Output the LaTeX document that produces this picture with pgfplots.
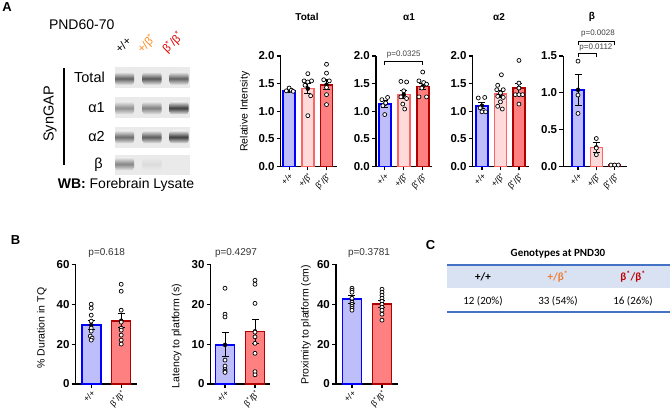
\documentclass[border=0pt]{standalone}
\usepackage{fontspec}
\setmainfont{Liberation Sans}
\newfontfamily\calibri{Carlito}
\usepackage{pgfplots}
\pgfplotsset{compat=1.18}
\definecolor{bluefill}{RGB}{190,190,250}
\definecolor{blueedge}{RGB}{0,0,255}
\definecolor{pinkfill}{RGB}{255,218,218}
\definecolor{pinkedge}{RGB}{255,100,100}
\definecolor{redfill}{RGB}{255,128,128}
\definecolor{rededge}{RGB}{176,0,0}
\definecolor{orangetxt}{RGB}{255,140,30}
\definecolor{redtxt}{RGB}{225,0,0}
\definecolor{tblue}{RGB}{68,114,196}
\definecolor{tfill}{RGB}{217,226,243}
\definecolor{torange}{RGB}{237,125,49}
\definecolor{tred}{RGB}{192,0,0}
\definecolor{blotbg}{RGB}{234,234,234}
\newcommand{\bs}{β\textsuperscript{*}}
\pgfplotsset{
  gpbase/.style={
    scale only axis, anchor=south west,
    axis lines=left, axis line style={-, line width=1.5pt, black},
    tick align=outside, major tick length=4pt,
    tick style={line width=1.2pt, black},
    ymin=0, clip=false,
    /pgf/number format/assume math mode=true,
    yticklabel style={font=\fontsize{11.5}{12}\selectfont\bfseries, inner sep=2pt},
    xticklabel style={font=\fontsize{8.5}{9}\selectfont, rotate=45, anchor=north east, inner sep=1pt},
  },
  gpA/.style={gpbase, height=110.5pt, ymax=2, ytick={0,0.5,1,1.5,2},
    yticklabel={\pgfmathprintnumber[fixed,fixed zerofill,precision=1]{\tick}},
    xtick={0,1,2}, xticklabels={+/+, +/\bs, \bs/\bs}},
  gpB/.style={gpbase, height=119.7pt, xtick={0,1}, xticklabels={+/+, \bs/\bs}},
  barB/.style={ybar, bar width=12pt, bar shift=0pt, fill=bluefill, draw=blueedge, line width=1.6pt},
  barP/.style={ybar, bar width=12pt, bar shift=0pt, fill=pinkfill, draw=pinkedge, line width=1.6pt},
  barR/.style={ybar, bar width=12pt, bar shift=0pt, fill=redfill, draw=rededge, line width=1.6pt},
  errb/.style={only marks, mark=none, error bars/.cd, y dir=both, y explicit,
    error bar style={line width=1pt, black},
    error mark options={rotate=90, mark size=3.5pt, line width=1pt, black}},
  pts/.style={only marks, mark=*, mark size=2pt, mark options={fill=white, draw=black, line width=0.7pt}},
}
\begin{document}
\begin{tikzpicture}
\path[use as bounding box] (0,0) rectangle (670pt,418pt);

% ---------- panel letters
\node[font=\fontsize{13}{13}\selectfont\bfseries] at (7pt,411pt) {A};
\node[font=\fontsize{13}{13}\selectfont\bfseries] at (15.5pt,177.5pt) {B};
\node[font=\fontsize{13}{13}\selectfont\bfseries] at (430.5pt,172.5pt) {C};

% ---------- western blot sketch
\node[font=\fontsize{14}{14}\selectfont] at (81.7pt,393pt) {PND60-70};
\node[font=\fontsize{11.5}{11.5}\selectfont, rotate=45, anchor=base west, inner sep=0pt] at (120pt,364pt) {+/+};
\node[font=\fontsize{11.5}{11.5}\selectfont, rotate=45, anchor=base west, inner sep=0pt, text=orangetxt] at (142pt,364pt) {+/\bs};
\node[font=\fontsize{11.5}{11.5}\selectfont, rotate=45, anchor=base west, inner sep=0pt, text=redtxt] at (167pt,364pt) {\bs/\bs};
\draw[line width=2.5pt] (64pt,350pt) -- (64pt,253pt);
\node[font=\fontsize{14.5}{14.5}\selectfont, rotate=90] at (50pt,304pt) {SynGAP};
\node[font=\fontsize{14.5}{14.5}\selectfont, anchor=east, inner sep=0pt] at (105pt,340.7pt) {Total};
\node[font=\fontsize{14.5}{14.5}\selectfont, anchor=east, inner sep=0pt] at (105pt,310.3pt) {α1};
\node[font=\fontsize{14.5}{14.5}\selectfont, anchor=east, inner sep=0pt] at (105pt,281.3pt) {α2};
\node[font=\fontsize{14.5}{14.5}\selectfont] at (98.5pt,253pt) {β};
\fill[blotbg] (115pt,351pt) rectangle (190pt,330pt);
\fill[blotbg] (115pt,321pt) rectangle (190pt,300pt);
\fill[blotbg] (115pt,291pt) rectangle (190pt,270pt);
\fill[blotbg] (115pt,263pt) rectangle (190pt,243pt);
\foreach \xc/\yc/\c in {124.5/339.5/62, 152/339.5/66, 179/339.5/62,
                        124.5/310/44, 152/310/50, 179/310/76,
                        124.5/281/58, 152/281/64, 179/281/76,
                        124.5/254/48, 152/254/14}{
  \shade[rounded corners=3pt, top color=blotbg, bottom color=blotbg, middle color=black!\c]
    ({(\xc-9.5)*1pt},{(\yc-6.5)*1pt}) rectangle ({(\xc+9.5)*1pt},{(\yc+6.5)*1pt});
}
\node[font=\fontsize{14}{14}\selectfont] at (126pt,233pt) {\textbf{WB:} Forebrain Lysate};

% ---------- panel A charts
\node[font=\fontsize{10}{10}\selectfont\bfseries] at (307pt,401pt) {Total};
\node[font=\fontsize{10}{10}\selectfont\bfseries] at (409pt,401pt) {α1};
\node[font=\fontsize{10}{10}\selectfont\bfseries] at (499pt,401pt) {α2};
\node[font=\fontsize{10}{10}\selectfont\bfseries] at (592pt,401pt) {β};
\node[font=\fontsize{10.5}{10.5}\selectfont, rotate=90] at (245pt,306.3pt) {Relative Intensity};

\begin{axis}[gpA, at={(280.7pt,251.5pt)}, width=56pt, xmin=-0.45, xmax=2.545]
\addplot[barB] coordinates {(0,1.37)};
\addplot[barP] coordinates {(1,1.41)};
\addplot[barR] coordinates {(2,1.48)};
\addplot[errb] coordinates {(0,1.37) +- (0,0.015) (1,1.41) +- (0,0.09) (2,1.48) +- (0,0.09)};
\addplot[pts] coordinates {(-0.15,1.37) (0,1.42) (0.12,1.38) (0.22,1.36)
  (1.0,1.68) (0.8,1.55) (1.0,1.53) (1.2,1.55) (0.85,1.47) (1.15,1.28) (1.0,0.92)
  (2.0,1.85) (2.0,1.69) (1.85,1.57) (2.15,1.55) (2.0,1.43) (2.0,1.30) (2.0,1.12)};
\end{axis}

\begin{axis}[gpA, at={(376pt,251.5pt)}, width=56pt, xmin=-0.46, xmax=2.487]
\addplot[barB] coordinates {(0,1.13)};
\addplot[barP] coordinates {(1,1.30)};
\addplot[barR] coordinates {(2,1.45)};
\addplot[errb] coordinates {(0,1.13) +- (0,0.06) (1,1.30) +- (0,0.07) (2,1.45) +- (0,0.06)};
\addplot[pts] coordinates {(-0.15,1.21) (0.15,1.25) (0.05,1.15) (-0.1,1.10) (0,0.94)
  (0.85,1.54) (1.15,1.53) (1.0,1.37) (0.85,1.26) (1.15,1.23) (0.95,1.13) (1.05,1.04)
  (2.0,1.71) (1.8,1.55) (2.05,1.52) (2.2,1.49) (1.95,1.42) (1.8,1.26) (2.2,1.26)};
\draw[line width=1pt] (axis cs:0,1.84) -- (axis cs:0,1.90) -- (axis cs:2,1.90) -- (axis cs:2,1.84);
\node[font=\fontsize{8}{8}\selectfont, text=black!75] at (axis cs:1,2.02) {p=0.0325};
\end{axis}

\begin{axis}[gpA, at={(472.7pt,251.5pt)}, width=56pt, xmin=-0.5, xmax=2.527]
\addplot[barB] coordinates {(0,1.10)};
\addplot[barP] coordinates {(1,1.31)};
\addplot[barR] coordinates {(2,1.42)};
\addplot[errb] coordinates {(0,1.10) +- (0,0.05) (1,1.31) +- (0,0.06) (2,1.42) +- (0,0.09)};
\addplot[pts] coordinates {(-0.2,1.24) (0.15,1.25) (-0.1,1.06) (0.0,0.99) (0.2,0.99)
  (1.05,1.66) (0.85,1.47) (0.8,1.39) (1.15,1.39) (1.0,1.33) (0.85,1.27) (1.15,1.25) (1.0,1.17) (0.85,1.09) (1.1,1.04)
  (2.0,1.92) (2.0,1.51) (2.0,1.42) (1.8,1.30) (2.0,1.30) (2.2,1.30) (2.0,1.13)};
\end{axis}

\begin{axis}[gpA, at={(563.3pt,251.5pt)}, width=63.4pt, xmin=-0.803, xmax=2.66,
  ymax=1.5, ytick={0,0.5,1,1.5}]
\addplot[barB] coordinates {(0,1.04)};
\addplot[barP] coordinates {(1,0.26)};
\addplot[barR] coordinates {(2,0.02)};
\addplot[errb] coordinates {(0,1.04) +- (0,0.21) (1,0.26) +- (0,0.07) (2,0.02) +- (0,0.003)};
\addplot[pts] coordinates {(0,1.43) (0,0.97) (0,0.72)
  (1,0.38) (1,0.25) (1,0.16)
  (1.8,0.02) (2.0,0.02) (2.2,0.02)};
\draw[line width=1pt] (axis cs:0,1.65) -- (axis cs:0,1.70) -- (axis cs:2,1.70) -- (axis cs:2,1.65);
\node[font=\fontsize{8}{8}\selectfont, text=black!75] at (axis cs:1.09,1.80) {p=0.0028};
\draw[line width=1pt] (axis cs:0,1.48) -- (axis cs:0,1.53) -- (axis cs:1,1.53) -- (axis cs:1,1.48);
\node[font=\fontsize{8}{8}\selectfont, text=black!75] at (axis cs:0.98,1.61) {p=0.0112};
\end{axis}

% ---------- panel B
\node[font=\fontsize{10}{10}\selectfont, text=black!80] at (106.7pt,164.7pt) {p=0.618};
\node[font=\fontsize{10}{10}\selectfont, text=black!80] at (236pt,164.7pt) {p=0.4297};
\node[font=\fontsize{10}{10}\selectfont, text=black!80] at (369pt,164.7pt) {p=0.3781};
\node[font=\fontsize{10.5}{10.5}\selectfont, rotate=90] at (41.7pt,90pt) {\% Duration in TQ};
\node[font=\fontsize{10.5}{10.5}\selectfont, rotate=90] at (176.7pt,82pt) {Latency to platform (s)};
\node[font=\fontsize{10.5}{10.5}\selectfont, rotate=90] at (306pt,93pt) {Proximity to platform (cm)};

\begin{axis}[gpB, at={(75.7pt,34pt)}, width=61.6pt, xmin=-0.517, xmax=1.537,
  ymax=60, ytick={0,20,40,60}]
\addplot[barB, bar width=19pt] coordinates {(0,29.5)};
\addplot[barR, bar width=19pt] coordinates {(1,31.7)};
\addplot[errb] coordinates {(0,29.5) +- (0,2.4) (1,31.7) +- (0,3.6)};
\addplot[pts] coordinates {(0,40) (0,38) (0,34.5) (0,31.5) (0,28) (0,26.5) (-0.03,24) (0.03,23) (0,22)
  (1,50) (1,46.5) (1,37) (1,31) (1,28) (1,27) (1,24.5) (1,22) (1,20)};
\end{axis}

\begin{axis}[gpB, at={(210.7pt,34pt)}, width=59.3pt, xmin=-0.477, xmax=1.5,
  ymax=30, ytick={0,10,20,30}]
\addplot[barB, bar width=19pt] coordinates {(0,9.8)};
\addplot[barR, bar width=19pt] coordinates {(1,13.2)};
\addplot[errb] coordinates {(0,9.8) +- (0,3.0) (1,13.2) +- (0,3.0)};
\addplot[pts] coordinates {(0,24) (0,17.5) (0,16.8) (0,6) (0,4.5) (0,3.6) (0,3.2) (0,2.9)
  (1,26) (1,25) (1,20.2) (1,13) (1,11.8) (1,10.2) (1,7.7) (1,3.1) (1,2.3)};
\end{axis}

\begin{axis}[gpB, at={(336pt,34pt)}, width=62.3pt, xmin=-0.533, xmax=1.544,
  ymax=60, ytick={0,20,40,60}]
\addplot[barB, bar width=19pt] coordinates {(0,42.5)};
\addplot[barR, bar width=19pt] coordinates {(1,40)};
\addplot[errb] coordinates {(0,42.5) +- (0,2.0) (1,40) +- (0,1.7)};
\addplot[pts] coordinates {(0,48) (0,47) (0,46) (0,43) (0,41) (0,40) (0,39) (0,38) (0,37)
  (1,47.5) (1,46) (1,44.5) (1,43) (1,41.5) (1,40) (1,38.5) (1,37) (1,35) (1,32)};
\end{axis}

% ---------- panel C table
\node[font=\calibri\fontsize{11}{11}\selectfont\bfseries] at (558pt,164pt) {Genotypes at PND30};
\fill[tfill] (447pt,153pt) rectangle (670pt,130pt);
\draw[tblue, line width=1.3pt] (447pt,153pt) -- (670pt,153pt);
\draw[tblue, line width=1.3pt] (447pt,106pt) -- (670pt,106pt);
\node[font=\calibri\fontsize{11}{11}\selectfont\bfseries] at (483pt,141pt) {+/+};
\node[font=\calibri\fontsize{11}{11}\selectfont\bfseries, text=torange] at (558pt,141pt) {+/β\textsuperscript{*}};
\node[font=\calibri\fontsize{11}{11}\selectfont\bfseries, text=tred] at (633pt,141pt) {β\textsuperscript{*}/β\textsuperscript{*}};
\node[font=\calibri\fontsize{11}{11}\selectfont] at (483pt,117pt) {12 (20\%)};
\node[font=\calibri\fontsize{11}{11}\selectfont] at (558pt,117pt) {33 (54\%)};
\node[font=\calibri\fontsize{11}{11}\selectfont] at (633pt,117pt) {16 (26\%)};
\end{tikzpicture}
\end{document}
